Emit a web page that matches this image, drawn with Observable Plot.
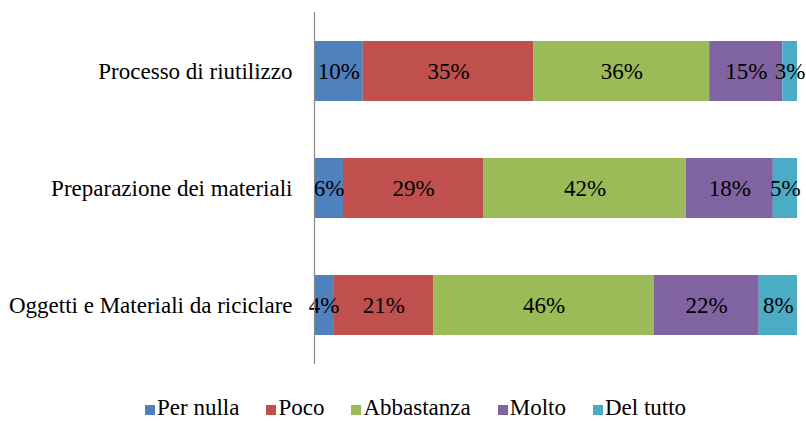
<!DOCTYPE html>
<html>
<head>
<meta charset="utf-8">
<script src="https://cdn.jsdelivr.net/npm/d3@7"></script>
<script src="https://cdn.jsdelivr.net/npm/@observablehq/plot@0.6"></script>
<style>
  html, body { margin: 0; padding: 0; background: #fff; }
  #chart { width: 806px; }
  .legend { display: flex; padding-left: 145px; margin-top: 10px; font-family: "Liberation Serif", "Times New Roman", serif; font-size: 23px; line-height: 25px; height: 25px; color: #000; }
  .legend .item { display: flex; align-items: center; margin-right: 27px; }
  .legend .sw { width: 10px; height: 10px; margin-right: 2px; display: inline-block; position: relative; top: 2px; }
</style>
</head>
<body>
<div id="chart"></div>
<script>
const categories = ["Processo di riutilizzo", "Preparazione dei materiali", "Oggetti e Materiali da riciclare"];
const series = ["Per nulla", "Poco", "Abbastanza", "Molto", "Del tutto"];
const colors = ["#4F81BD", "#C0504D", "#9BBB59", "#8064A2", "#4BACC6"];
const perNulla = [10, 6, 4];
const poco = [35, 29, 21];
const abbastanza = [36, 42, 46];
const molto = [15, 18, 22];
const delTutto = [3, 5, 8];

const seriesValues = [perNulla, poco, abbastanza, molto, delTutto];
const data = [];
categories.forEach((c, i) => {
  series.forEach((s, j) => {
    data.push({category: c, series: s, value: seriesValues[j][i]});
  });
});

const plot = Plot.plot({
  width: 806,
  height: 385,
  marginLeft: 314,
  marginRight: 9,
  marginTop: 12,
  marginBottom: 21,
  style: {fontFamily: "'Liberation Serif', 'Times New Roman', serif", fontSize: "23px", color: "#000", background: "#fff"},
  x: {axis: null},
  y: {domain: categories, paddingInner: 0.49, paddingOuter: 0.245, label: null},
  color: {domain: series, range: colors},
  marks: [
    Plot.barX(data, Plot.stackX({x: "value", y: "category", fill: "series", order: series, offset: "normalize"})),
    Plot.text(data, Plot.stackX({x: "value", y: "category", z: "series", order: series, offset: "normalize", text: d => d.value + "%", fill: "#000", fontSize: 23})),
    Plot.ruleX([0], {stroke: "#888", strokeWidth: 1.2}),
    Plot.axisY({tickSize: 0, tickPadding: 22, fontSize: 23, label: null})
  ]
});
document.getElementById("chart").appendChild(plot);

const legend = d3.select("#chart").append("div").attr("class", "legend");
series.forEach((s, i) => {
  const it = legend.append("div").attr("class", "item");
  it.append("span").attr("class", "sw").style("background", colors[i]);
  it.append("span").text(s);
});
</script>
</body>
</html>
